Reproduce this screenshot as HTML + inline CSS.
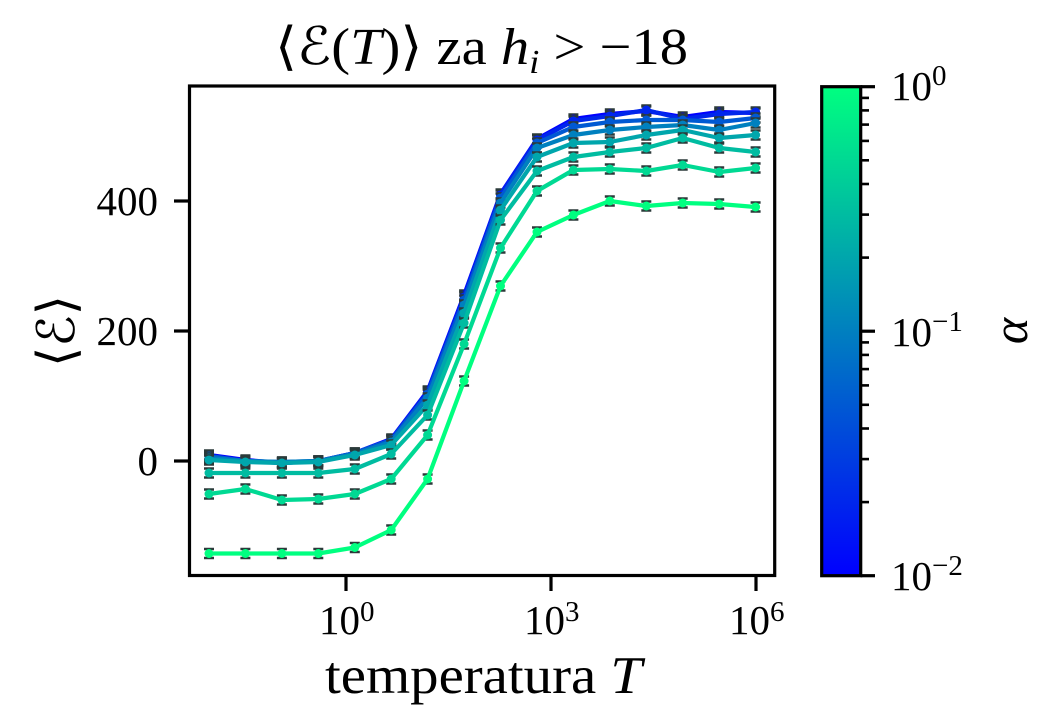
<!DOCTYPE html>
<html>
<head>
<meta charset="utf-8">
<style>
html,body{margin:0;padding:0;background:#fff;}
svg{display:block;}
text{font-family:"Liberation Serif","DejaVu Serif","DejaVu Sans",serif;fill:#000;}
</style>
</head>
<body>
<svg width="1050" height="720" viewBox="0 0 1050 720" xmlns="http://www.w3.org/2000/svg">
<defs>
  <linearGradient id="cb" x1="0" y1="0" x2="0" y2="1">
    <stop offset="0" stop-color="#00ff80"/>
    <stop offset="1" stop-color="#0000ff"/>
  </linearGradient>
  <marker id="cap" markerUnits="userSpaceOnUse" markerWidth="14" markerHeight="14" refX="7" refY="7" overflow="visible">
    <path d="M2 2.5h10M2 11.5h10" stroke="#2b3a3a" stroke-width="2.6"/>
  </marker>
  <marker id="m8" markerUnits="userSpaceOnUse" markerWidth="10" markerHeight="10" refX="5" refY="5" overflow="visible"><circle cx="5" cy="5" r="4.5" fill="#0000ff"/></marker>
  <marker id="m7" markerUnits="userSpaceOnUse" markerWidth="10" markerHeight="10" refX="5" refY="5" overflow="visible"><circle cx="5" cy="5" r="4.5" fill="#0026ec"/></marker>
  <marker id="m6" markerUnits="userSpaceOnUse" markerWidth="10" markerHeight="10" refX="5" refY="5" overflow="visible"><circle cx="5" cy="5" r="4.5" fill="#0059d3"/></marker>
  <marker id="m5" markerUnits="userSpaceOnUse" markerWidth="10" markerHeight="10" refX="5" refY="5" overflow="visible"><circle cx="5" cy="5" r="4.5" fill="#0080bf"/></marker>
  <marker id="m4" markerUnits="userSpaceOnUse" markerWidth="10" markerHeight="10" refX="5" refY="5" overflow="visible"><circle cx="5" cy="5" r="4.5" fill="#00a6ac"/></marker>
  <marker id="m3" markerUnits="userSpaceOnUse" markerWidth="10" markerHeight="10" refX="5" refY="5" overflow="visible"><circle cx="5" cy="5" r="4.5" fill="#00bca1"/></marker>
  <marker id="m2" markerUnits="userSpaceOnUse" markerWidth="10" markerHeight="10" refX="5" refY="5" overflow="visible"><circle cx="5" cy="5" r="4.5" fill="#00d993"/></marker>
  <marker id="m1" markerUnits="userSpaceOnUse" markerWidth="10" markerHeight="10" refX="5" refY="5" overflow="visible"><circle cx="5" cy="5" r="4.5" fill="#00ff80"/></marker>
</defs>

<rect width="1050" height="720" fill="#fff"/>

<!-- Title -->
<text x="275" y="64" font-size="52" textLength="413" lengthAdjust="spacingAndGlyphs">⟨ℰ(<tspan font-style="italic">T</tspan>)⟩ za <tspan font-style="italic">h</tspan><tspan font-style="italic" font-size="34" dy="9">i</tspan><tspan dy="-9"> &gt; −18</tspan></text>

<!-- Series -->
<g fill="none" stroke-linejoin="round">
<polyline stroke="none" marker-start="url(#cap)" marker-mid="url(#cap)" marker-end="url(#cap)" points="209,455 245.4,460 281.9,463 318.3,461 354.8,453 391.2,439 427.6,391 464.1,295 500.5,194 537,139 573.4,119 609.8,114 646.3,111 682.7,117 719.2,112 755.6,113"/>
<polyline stroke="#0000ff" stroke-width="4.2" marker-start="url(#m8)" marker-mid="url(#m8)" marker-end="url(#m8)" points="209,455 245.4,460 281.9,463 318.3,461 354.8,453 391.2,439 427.6,391 464.1,295 500.5,194 537,139 573.4,119 609.8,114 646.3,111 682.7,117 719.2,112 755.6,113"/>

<polyline stroke="none" marker-start="url(#cap)" marker-mid="url(#cap)" marker-end="url(#cap)" points="209,457 245.4,461 281.9,463 318.3,461 354.8,453 391.2,440 427.6,392 464.1,297 500.5,195 537,140 573.4,121 609.8,116 646.3,110 682.7,119 719.2,114 755.6,112"/>
<polyline stroke="#0026ec" stroke-width="4.2" marker-start="url(#m7)" marker-mid="url(#m7)" marker-end="url(#m7)" points="209,457 245.4,461 281.9,463 318.3,461 354.8,453 391.2,440 427.6,392 464.1,297 500.5,195 537,140 573.4,121 609.8,116 646.3,110 682.7,119 719.2,114 755.6,112"/>

<polyline stroke="none" marker-start="url(#cap)" marker-mid="url(#cap)" marker-end="url(#cap)" points="209,456 245.4,461 281.9,462 318.3,461 354.8,453 391.2,440 427.6,394 464.1,300 500.5,198 537,143 573.4,127 609.8,122 646.3,120 682.7,120 719.2,122 755.6,118"/>
<polyline stroke="#0059d3" stroke-width="4.2" marker-start="url(#m6)" marker-mid="url(#m6)" marker-end="url(#m6)" points="209,456 245.4,461 281.9,462 318.3,461 354.8,453 391.2,440 427.6,394 464.1,300 500.5,198 537,143 573.4,127 609.8,122 646.3,120 682.7,120 719.2,122 755.6,118"/>

<polyline stroke="none" marker-start="url(#cap)" marker-mid="url(#cap)" marker-end="url(#cap)" points="209,458 245.4,461 281.9,462 318.3,461 354.8,454 391.2,442 427.6,398 464.1,305 500.5,203 537,148 573.4,135 609.8,130 646.3,127 682.7,125 719.2,130 755.6,123"/>
<polyline stroke="#0080bf" stroke-width="4.2" marker-start="url(#m5)" marker-mid="url(#m5)" marker-end="url(#m5)" points="209,458 245.4,461 281.9,462 318.3,461 354.8,454 391.2,442 427.6,398 464.1,305 500.5,203 537,148 573.4,135 609.8,130 646.3,127 682.7,125 719.2,130 755.6,123"/>

<polyline stroke="none" marker-start="url(#cap)" marker-mid="url(#cap)" marker-end="url(#cap)" points="209,460 245.4,462 281.9,463 318.3,462 354.8,455 391.2,445 427.6,405 464.1,313 500.5,210 537,157 573.4,143 609.8,142 646.3,135 682.7,130 719.2,138 755.6,135"/>
<polyline stroke="#00a6ac" stroke-width="4.2" marker-start="url(#m4)" marker-mid="url(#m4)" marker-end="url(#m4)" points="209,460 245.4,462 281.9,463 318.3,462 354.8,455 391.2,445 427.6,405 464.1,313 500.5,210 537,157 573.4,143 609.8,142 646.3,135 682.7,130 719.2,138 755.6,135"/>

<polyline stroke="none" marker-start="url(#cap)" marker-mid="url(#cap)" marker-end="url(#cap)" points="209,473 245.4,473 281.9,473 318.3,473 354.8,469 391.2,454 427.6,415 464.1,323 500.5,220 537,171 573.4,157 609.8,152 646.3,148 682.7,138 719.2,148 755.6,152"/>
<polyline stroke="#00bca1" stroke-width="4.2" marker-start="url(#m3)" marker-mid="url(#m3)" marker-end="url(#m3)" points="209,473 245.4,473 281.9,473 318.3,473 354.8,469 391.2,454 427.6,415 464.1,323 500.5,220 537,171 573.4,157 609.8,152 646.3,148 682.7,138 719.2,148 755.6,152"/>

<polyline stroke="none" marker-start="url(#cap)" marker-mid="url(#cap)" marker-end="url(#cap)" points="209,494 245.4,489 281.9,500 318.3,499 354.8,494 391.2,479 427.6,435 464.1,344 500.5,248 537,191 573.4,170 609.8,169 646.3,171 682.7,165 719.2,172 755.6,168"/>
<polyline stroke="#00d993" stroke-width="4.2" marker-start="url(#m2)" marker-mid="url(#m2)" marker-end="url(#m2)" points="209,494 245.4,489 281.9,500 318.3,499 354.8,494 391.2,479 427.6,435 464.1,344 500.5,248 537,191 573.4,170 609.8,169 646.3,171 682.7,165 719.2,172 755.6,168"/>

<polyline stroke="none" marker-start="url(#cap)" marker-mid="url(#cap)" marker-end="url(#cap)" points="209,553.5 245.4,553.5 281.9,553.5 318.3,553.5 354.8,547.5 391.2,530 427.6,479 464.1,381 500.5,286 537,232 573.4,215 609.8,201 646.3,206 682.7,203 719.2,204 755.6,207"/>
<polyline stroke="#00ff80" stroke-width="4.2" marker-start="url(#m1)" marker-mid="url(#m1)" marker-end="url(#m1)" points="209,553.5 245.4,553.5 281.9,553.5 318.3,553.5 354.8,547.5 391.2,530 427.6,479 464.1,381 500.5,286 537,232 573.4,215 609.8,201 646.3,206 682.7,203 719.2,204 755.6,207"/>
</g>

<!-- Axes frame -->
<rect x="189.5" y="86" width="585.2" height="489.5" fill="none" stroke="#000" stroke-width="3.2"/>

<!-- Ticks -->
<g stroke="#000" stroke-width="3.2">
  <line x1="174" y1="201" x2="189.5" y2="201"/>
  <line x1="174" y1="331" x2="189.5" y2="331"/>
  <line x1="174" y1="461" x2="189.5" y2="461"/>
  <line x1="346" y1="575.5" x2="346" y2="591"/>
  <line x1="551" y1="575.5" x2="551" y2="591"/>
  <line x1="756" y1="575.5" x2="756" y2="591"/>
</g>
<g font-size="41" text-anchor="end">
  <text x="158" y="215">400</text>
  <text x="158" y="345">200</text>
  <text x="158" y="475">0</text>
</g>

<!-- X tick labels -->
<g font-size="41">
  <text x="319" y="634">10<tspan font-size="29" dy="-13">0</tspan></text>
  <text x="524" y="634">10<tspan font-size="29" dy="-13">3</tspan></text>
  <text x="729" y="634">10<tspan font-size="29" dy="-13">6</tspan></text>
</g>

<!-- X label -->
<text x="325" y="693" font-size="53" textLength="317" lengthAdjust="spacingAndGlyphs">temperatura <tspan font-style="italic">T</tspan></text>

<!-- Y label -->
<text transform="translate(74,331) rotate(-90)" text-anchor="middle" font-size="52">⟨ℰ⟩</text>

<!-- Colorbar -->
<rect x="821.7" y="86.7" width="39" height="489" fill="url(#cb)" stroke="#000" stroke-width="3.2"/>
<g stroke="#000" stroke-width="2.6">
  <line x1="860.7" y1="86.7" x2="875" y2="86.7" stroke-width="3.2"/>
  <line x1="860.7" y1="331.2" x2="875" y2="331.2" stroke-width="3.2"/>
  <line x1="860.7" y1="575.7" x2="875" y2="575.7" stroke-width="3.2"/>
  <line x1="860.7" y1="502.1" x2="869" y2="502.1"/>
  <line x1="860.7" y1="459.1" x2="869" y2="459.1"/>
  <line x1="860.7" y1="428.5" x2="869" y2="428.5"/>
  <line x1="860.7" y1="404.8" x2="869" y2="404.8"/>
  <line x1="860.7" y1="385.4" x2="869" y2="385.4"/>
  <line x1="860.7" y1="369.1" x2="869" y2="369.1"/>
  <line x1="860.7" y1="354.9" x2="869" y2="354.9"/>
  <line x1="860.7" y1="342.4" x2="869" y2="342.4"/>
  <line x1="860.7" y1="257.6" x2="869" y2="257.6"/>
  <line x1="860.7" y1="214.6" x2="869" y2="214.6"/>
  <line x1="860.7" y1="184.0" x2="869" y2="184.0"/>
  <line x1="860.7" y1="160.3" x2="869" y2="160.3"/>
  <line x1="860.7" y1="140.9" x2="869" y2="140.9"/>
  <line x1="860.7" y1="124.6" x2="869" y2="124.6"/>
  <line x1="860.7" y1="110.4" x2="869" y2="110.4"/>
  <line x1="860.7" y1="97.9" x2="869" y2="97.9"/>
</g>
<g font-size="41">
  <text x="891" y="100">10<tspan font-size="29" dy="-15">0</tspan></text>
  <text x="891" y="346">10<tspan font-size="29" dy="-15">−1</tspan></text>
  <text x="891" y="590">10<tspan font-size="29" dy="-15">−2</tspan></text>
</g>
<text transform="translate(1027,331) rotate(-90)" text-anchor="middle" font-size="50" font-style="italic">α</text>
</svg>
</body>
</html>
